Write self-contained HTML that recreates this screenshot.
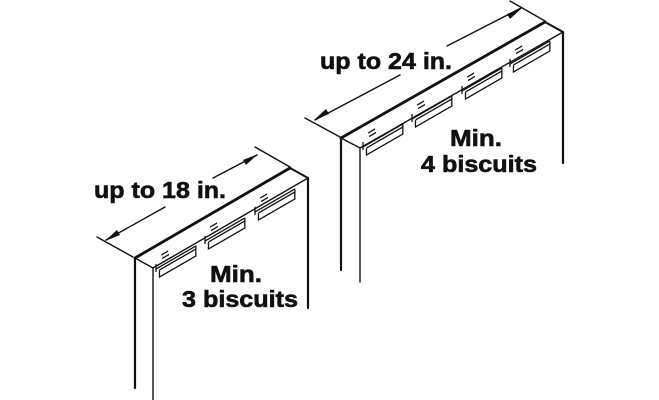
<!DOCTYPE html>
<html><head><meta charset="utf-8"><style>
html,body{margin:0;padding:0;background:#fff;}
svg{display:block;}
text{font-family:"Liberation Sans",Arial,sans-serif;font-weight:bold;fill:#111;}
</style></head><body>
<svg width="659" height="400" viewBox="0 0 659 400" xmlns="http://www.w3.org/2000/svg">
<defs>
<g id="bis" fill="none" stroke="#111" stroke-width="1.5">
  <line x1="0" y1="-4" x2="0" y2="4"/>
  <line x1="0" y1="1" x2="46" y2="1"/>
  <polyline points="4,4 4,11 46,11 46,4 4,4"/>
  <line x1="46" y1="1" x2="46" y2="4"/>
  <line x1="7" y1="-6" x2="15" y2="-6"/>
  <line x1="6" y1="-10" x2="14" y2="-10"/>
</g>
</defs>
<g stroke="#111" fill="none" stroke-linecap="round">
  <line x1="135" y1="258" x2="290" y2="168" stroke-width="2.8"/>
  <line x1="153" y1="268" x2="308" y2="178" stroke-width="1.4"/>
  <line x1="290" y1="168" x2="308" y2="178" stroke-width="2"/>
  <line x1="135" y1="258" x2="153" y2="268" stroke-width="1.4"/>
  <line x1="135" y1="258" x2="135" y2="388" stroke-width="2.2"/>
  <line x1="153" y1="268" x2="153" y2="400" stroke-width="1.4"/>
  <line x1="308" y1="178" x2="308" y2="308" stroke-width="2.2"/>
  <line x1="97" y1="237" x2="133" y2="257" stroke-width="1.4"/>
  <line x1="255" y1="147" x2="290" y2="167" stroke-width="1.4"/>
  <line x1="106" y1="240" x2="165" y2="207" stroke-width="1.4"/>
  <line x1="213" y1="178" x2="257" y2="155" stroke-width="1.4"/>
  <line x1="341" y1="138" x2="545" y2="22" stroke-width="2.8"/>
  <line x1="360" y1="148" x2="563" y2="32" stroke-width="1.4"/>
  <line x1="545" y1="22" x2="563" y2="32" stroke-width="2"/>
  <line x1="341" y1="138" x2="360" y2="148" stroke-width="1.4"/>
  <line x1="341" y1="138" x2="341" y2="270" stroke-width="2.2"/>
  <line x1="360" y1="148" x2="360" y2="282" stroke-width="1.4"/>
  <line x1="563" y1="32" x2="563" y2="163" stroke-width="2.2"/>
  <line x1="305" y1="118" x2="340" y2="137" stroke-width="1.4"/>
  <line x1="510" y1="1" x2="545" y2="21" stroke-width="1.4"/>
  <line x1="315" y1="120" x2="400" y2="75" stroke-width="1.4"/>
  <line x1="447" y1="46" x2="521" y2="8" stroke-width="1.4"/>
</g>
<g fill="#111">
  <polygon points="105,241 117,230 120,235"/>
  <polygon points="258,154 246,165 243,160"/>
  <polygon points="314,120 326,109 329,114"/>
  <polygon points="522,8 510,19 507,14"/>
</g>
<use href="#bis" transform="matrix(0.866,-0.5,0,1,156,268)"/>
<use href="#bis" transform="matrix(0.866,-0.5,0,1,205,240)"/>
<use href="#bis" transform="matrix(0.866,-0.5,0,1,255,211)"/>
<use href="#bis" transform="matrix(0.866,-0.5,0,1,363,146)"/>
<use href="#bis" transform="matrix(0.866,-0.5,0,1,412,118)"/>
<use href="#bis" transform="matrix(0.866,-0.5,0,1,462,90)"/>
<use href="#bis" transform="matrix(0.866,-0.5,0,1,510,63)"/>
<g stroke="#111" stroke-width="0.6">
<text x="94" y="198" font-size="23" textLength="132" lengthAdjust="spacingAndGlyphs">up to 18 in.</text>
<text x="210" y="282" font-size="23" textLength="52" lengthAdjust="spacingAndGlyphs">Min.</text>
<text x="182" y="307" font-size="23" textLength="116" lengthAdjust="spacingAndGlyphs">3 biscuits</text>
<text x="320" y="69" font-size="23" textLength="132" lengthAdjust="spacingAndGlyphs">up to 24 in.</text>
<text x="450" y="146" font-size="23" textLength="52" lengthAdjust="spacingAndGlyphs">Min.</text>
<text x="421" y="172" font-size="23" textLength="116" lengthAdjust="spacingAndGlyphs">4 biscuits</text>
</g>
</svg>
</body></html>
